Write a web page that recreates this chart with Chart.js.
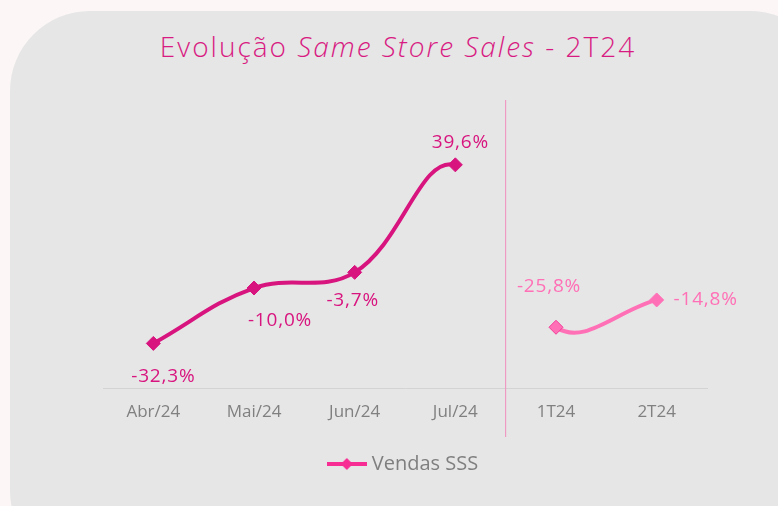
<!DOCTYPE html>
<html>
<head>
<meta charset="utf-8">
<script src="https://cdn.jsdelivr.net/npm/chart.js@4.4.1/dist/chart.umd.min.js"></script>
<style>
  html, body { margin: 0; padding: 0; width: 778px; height: 506px; overflow: hidden; background: #fcf6f6; font-family: "Open Sans", sans-serif; }
  #panel { position: absolute; left: 10px; top: 11px; width: 820px; height: 560px; background: #e6e6e6; border-radius: 80px; }
  #title { position: absolute; left: 0; top: 27px; width: 796px; text-align: center; font-size: 28px; font-weight: 300; letter-spacing: 2px; color: #d81b82; white-space: nowrap; }
  #title em { font-style: italic; }
  #chart { position: absolute; left: 0; top: 0; }
</style>
</head>
<body>
<div id="panel"></div>
<div id="title">Evolução <em>Same Store Sales</em> - 2T24</div>
<canvas id="chart" width="778" height="506"></canvas>
<script>
const categories = ['Abr/24', 'Mai/24', 'Jun/24', 'Jul/24', '1T24', '2T24'];
const vendasSSS = [-32.3, -10.0, -3.7, 39.6, -25.8, -14.8];

const DARK = '#d8147f';
const LIGHT = '#ff70b6';
const monthly = 4; // first points are monthly, the rest quarterly

// legend marker: line with a diamond
const marker = document.createElement('canvas');
marker.width = 40;
marker.height = 14;
(function () {
  const c = marker.getContext('2d');
  c.strokeStyle = '#f72d93';
  c.lineWidth = 4;
  c.beginPath();
  c.moveTo(0, 7);
  c.lineTo(40, 7);
  c.stroke();
  c.fillStyle = '#f72d93';
  c.beginPath();
  c.moveTo(20, 1);
  c.lineTo(26, 7);
  c.lineTo(20, 13);
  c.lineTo(14, 7);
  c.closePath();
  c.fill();
})();

const fmt = v => v.toFixed(1).replace('.', ',') + '%';

const separator = {
  id: 'separator',
  beforeDatasetsDraw(chart) {
    const x = chart.scales.x;
    const px = (x.getPixelForValue(monthly - 1) + x.getPixelForValue(monthly)) / 2;
    const ctx = chart.ctx;
    ctx.save();
    ctx.strokeStyle = '#f08cbc';
    ctx.lineWidth = 1;
    ctx.beginPath();
    ctx.moveTo(px, chart.chartArea.top - 3);
    ctx.lineTo(px, 437);
    ctx.stroke();
    ctx.restore();
  }
};

const valueLabels = {
  id: 'valueLabels',
  afterDatasetsDraw(chart, args, opts) {
    const ctx = chart.ctx;
    const meta = chart.getDatasetMeta(0);
    ctx.save();
    ctx.font = '19px "Open Sans", sans-serif';
    ctx.letterSpacing = '0.8px';
    ctx.textAlign = 'center';
    ctx.textBaseline = 'middle';
    meta.data.forEach((pt, i) => {
      const o = opts.offsets[i];
      ctx.fillStyle = i < monthly ? DARK : LIGHT;
      ctx.fillText(fmt(vendasSSS[i]), pt.x + o[0], pt.y + o[1]);
    });
    ctx.restore();
  }
};

new Chart(document.getElementById('chart'), {
  type: 'line',
  data: {
    labels: categories,
    datasets: [{
      label: 'Vendas SSS',
      data: vendasSSS,
      borderColor: DARK,
      borderWidth: 4,
      tension: 0.4,
      pointStyle: 'rectRot',
      pointRadius: 7,
      pointBorderWidth: 1,
      pointBackgroundColor: categories.map((c, i) => i < monthly ? DARK : LIGHT),
      pointBorderColor: categories.map((c, i) => i < monthly ? DARK : (i === monthly ? '#f23d98' : LIGHT)),
      segment: {
        borderColor: ctx => ctx.p0DataIndex === monthly - 1 ? 'rgba(0,0,0,0)' : (ctx.p0DataIndex >= monthly ? LIGHT : DARK)
      }
    }]
  },
  options: {
    responsive: false,
    animation: false,
    layout: {
      padding: { left: 103, right: 71, top: 103, bottom: 22 }
    },
    scales: {
      x: {
        offset: true,
        grid: { display: false },
        border: { display: true, color: '#d3d3d3', width: 1 },
        ticks: {
          color: '#808080',
          padding: 5,
          font: { family: '"Open Sans", sans-serif', size: 17 }
        }
      },
      y: {
        display: false,
        min: -50.5,
        max: 64.5
      }
    },
    plugins: {
      legend: {
        position: 'bottom',
        labels: {
          usePointStyle: true,
          pointStyle: marker,
          pointStyleWidth: 30,
          color: '#7f7f7f',
          padding: 27,
          font: { family: '"Open Sans", sans-serif', size: 20 }
        }
      },
      tooltip: { enabled: false },
      valueLabels: {
        offsets: [[10, 33], [26, 33], [-2, 28], [5, -22], [-7, -41], [49, 0]]
      }
    }
  },
  plugins: [separator, valueLabels]
});
</script>
</body>
</html>
